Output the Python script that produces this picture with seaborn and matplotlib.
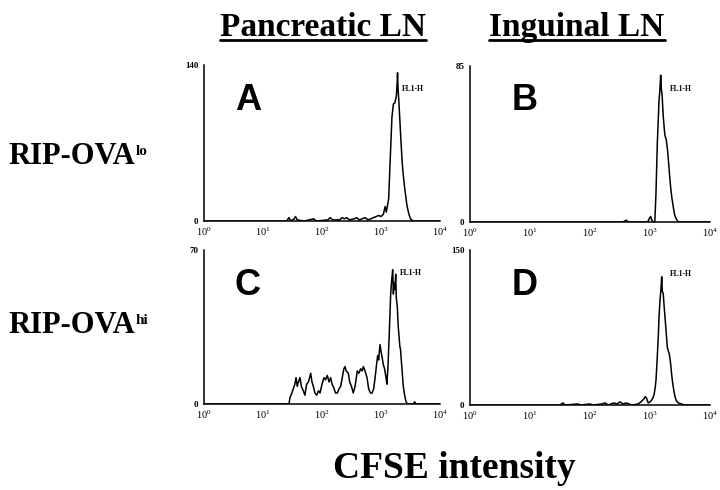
import matplotlib
matplotlib.use("Agg")
import matplotlib.pyplot as plt
import numpy as np
import pandas as pd
import seaborn as sns
from matplotlib.lines import Line2D
from matplotlib.ticker import LogLocator, LogFormatterMathtext, NullFormatter

# Histogram traces: log10(CFSE channel) and cell count
a_logx = [0.0, 1.40, 1.44, 1.47, 1.53, 1.55, 1.58, 1.70, 1.86, 1.90, 2.10, 2.14, 2.18,
          2.30, 2.34, 2.38, 2.42, 2.46, 2.55, 2.59, 2.63, 2.68, 2.73, 2.78, 2.83, 2.87,
          2.92, 2.96, 3.00, 3.04, 3.07, 3.09, 3.11, 3.13, 3.156, 3.185, 3.21, 3.235,
          3.26, 3.275, 3.28, 3.29, 3.30, 3.32, 3.34, 3.36, 3.38, 3.40, 3.42, 3.44,
          3.46, 3.48, 3.50, 3.52, 3.54, 4.0]
a_count = [0, 0, 3, 0, 2, 4, 1, 0, 2, 0, 1, 3, 1,
           1, 3, 2, 3, 1, 2, 3, 1, 2, 3, 1, 2, 3,
           4, 5, 4, 6, 13, 8, 14, 20, 55, 93, 105, 106,
           112, 125, 133, 118, 110, 90, 70, 52, 40, 30, 22, 14,
           9, 5, 2, 1, 0, 0]

b_logx = [0.0, 2.55, 2.60, 2.64, 2.96, 2.99, 3.01, 3.03, 3.05, 3.08, 3.10, 3.122,
          3.15, 3.165, 3.178, 3.19, 3.20, 3.222, 3.24, 3.25, 3.27, 3.29, 3.306,
          3.325, 3.344, 3.365, 3.389, 3.41, 3.433, 3.47, 4.0]
b_count = [0, 0, 1, 0, 0, 2, 3, 1, 0, 0, 16, 43,
           66, 72, 80, 72, 70, 57, 50, 47, 45, 40, 34,
           26, 19, 13, 8, 4, 2, 0, 0]

c_logx = [0.0, 1.44, 1.458, 1.49, 1.514, 1.54, 1.56, 1.58, 1.60, 1.627, 1.65, 1.683,
          1.71, 1.74, 1.77, 1.79, 1.808, 1.83, 1.853, 1.88, 1.91, 1.94, 1.966, 2.0,
          2.034, 2.06, 2.09, 2.12, 2.147, 2.17, 2.19, 2.23, 2.26, 2.29, 2.317, 2.35,
          2.37, 2.39, 2.41, 2.446, 2.47, 2.5, 2.53, 2.56, 2.598, 2.625, 2.655, 2.68,
          2.70, 2.73, 2.763, 2.79, 2.82, 2.85, 2.876, 2.90, 2.925, 2.944, 2.96, 2.983,
          3.0, 3.02, 3.039, 3.06, 3.085, 3.10, 3.12, 3.14, 3.164, 3.18, 3.198, 3.21,
          3.22, 3.235, 3.249, 3.26, 3.277, 3.29, 3.305, 3.32, 3.33, 3.355, 3.378, 3.40,
          3.424, 3.45, 3.55, 3.57, 3.59, 4.0]
c_count = [0, 0, 3, 5, 7, 9, 12, 8, 10, 12, 8, 6,
           4, 9, 10, 12, 14, 10, 8, 5, 4, 6, 5, 9,
           12, 11, 13, 10, 12, 9, 8, 5, 5, 7, 8, 13,
           16, 17, 15, 14, 10, 8, 5, 8, 15, 14, 16, 15,
           17, 15, 12, 7, 5, 5, 7, 12, 18, 22, 20, 27,
           24, 21, 18, 16, 12, 9, 18, 32, 50, 56, 61, 50,
           55, 52, 59, 48, 44, 36, 31, 26, 25, 16, 8, 4,
           1, 0, 0, 1, 0, 0]

d_logx = [0.0, 1.5, 1.55, 1.58, 1.80, 1.84, 2.0, 2.05, 2.2, 2.25, 2.3, 2.4, 2.45,
          2.5, 2.55, 2.6, 2.7, 2.8, 2.85, 2.90, 2.92, 2.94, 2.97, 3.0, 3.03, 3.05,
          3.067, 3.085, 3.10, 3.12, 3.138, 3.15, 3.167, 3.18, 3.195, 3.205, 3.22,
          3.235, 3.25, 3.27, 3.289, 3.305, 3.32, 3.344, 3.36, 3.378, 3.40, 3.417,
          3.44, 3.47, 3.53, 3.56, 4.0]
d_count = [0, 0, 2, 0, 1, 0, 1, 0, 1, 2, 0, 2, 1,
           3, 1, 2, 0, 1, 3, 6, 8, 7, 2, 3, 5, 7,
           10, 16, 24, 45, 66, 85, 102, 110, 124, 110, 108,
           96, 85, 70, 56, 52, 50, 40, 30, 21, 13, 8,
           4, 2, 1, 0, 0]

panel_letters = ["A", "B", "C", "D"]
y_max = [140, 85, 70, 150]
col_titles = ["Pancreatic LN", "Inguinal LN"]
row_main = ["RIP-OVA", "RIP-OVA"]
row_sup = ["lo", "hi"]
x_title = "CFSE intensity"

traces = [(a_logx, a_count), (b_logx, b_count), (c_logx, c_count), (d_logx, d_count)]

W, H = 720, 490
# axes boxes in pixels: left, top, right, bottom
boxes = [(204, 65, 440, 221), (470, 66, 710, 222),
         (204, 250, 440, 404), (470, 250, 710, 405)]
letter_pos = [(235, 110), (512, 110), (235, 295), (512, 295)]
fl1_pos = [(402, 91), (670, 91), (400, 275), (670, 276)]

sns.set_style("white")
plt.rcParams["font.family"] = ["Liberation Serif", "DejaVu Serif"]
plt.rcParams["mathtext.fontset"] = "custom"
plt.rcParams["mathtext.rm"] = "Liberation Serif:bold"
plt.rcParams.update({"text.color": "black", "xtick.color": "black",
                     "ytick.color": "black", "axes.edgecolor": "black"})

fig = plt.figure(figsize=(W / 100, H / 100), dpi=100)


def fx(x):
    return x / W


def fy(y):
    return 1 - y / H


for i, (logx, cnt) in enumerate(traces):
    l, t, r, b = boxes[i]
    ax = fig.add_axes([fx(l), fy(b), (r - l) / W, (b - t) / H])
    df = pd.DataFrame({"cfse": 10 ** np.array(logx), "count": cnt})
    sns.lineplot(data=df, x="cfse", y="count", ax=ax, color="black",
                 lw=1.1, sort=False, estimator=None)
    ax.set_xscale("log")
    ax.set_xlim(1, 1e4)
    ax.set_ylim(0, y_max[i])
    ax.set_xlabel("")
    ax.set_ylabel("")
    ax.set_yticks([0, y_max[i]])
    ax.set_yticklabels(["0", str(y_max[i])], fontsize=6.5, fontweight="bold")
    ax.xaxis.set_major_locator(LogLocator(base=10, numticks=10))
    ax.xaxis.set_major_formatter(LogFormatterMathtext())
    ax.xaxis.set_minor_locator(LogLocator(base=10, subs=np.arange(2, 10), numticks=20))
    ax.xaxis.set_minor_formatter(NullFormatter())
    ax.tick_params(axis="x", which="major", direction="inout", length=5,
                   width=0.8, labelsize=7.5, pad=1)
    ax.tick_params(axis="x", which="minor", direction="in", length=2.5, width=0.7)
    ax.tick_params(axis="y", direction="out", length=3, width=0.8, pad=1)
    sns.despine(ax=ax)
    for s in ["left", "bottom"]:
        ax.spines[s].set_linewidth(1.1)
        ax.spines[s].set_color("black")
    ax.patch.set_alpha(0)

    lx, ly = letter_pos[i]
    fig.text(fx(lx), fy(ly), panel_letters[i], family="Liberation Sans",
             fontweight="bold", fontsize=26, ha="left", va="baseline")
    px, py = fl1_pos[i]
    fig.text(fx(px), fy(py), "FL1-H", family="Liberation Serif",
             fontweight="bold", fontsize=5.5, ha="left", va="baseline")

# column titles, underlined
titles = []
for cx, txt in zip([323, 577], col_titles):
    titles.append(fig.text(fx(cx), fy(36), txt, fontsize=24, fontweight="bold",
                           ha="center", va="baseline"))

# row labels with superscripts
mains = []
for by, txt in zip([164, 333], row_main):
    mains.append(fig.text(fx(8), fy(by), txt, fontsize=22, fontweight="bold",
                          ha="left", va="baseline"))

fig.text(fx(454), fy(478), x_title, fontsize=27, fontweight="bold",
         ha="center", va="baseline")

fig.canvas.draw()
renderer = fig.canvas.get_renderer()
for t in titles:
    bb = t.get_window_extent(renderer)
    fig.add_artist(Line2D([bb.x0 / W, bb.x1 / W], [fy(40.5), fy(40.5)],
                          transform=fig.transFigure, color="black", lw=2.0))
for t, by, sup in zip(mains, [164, 333], row_sup):
    bb = t.get_window_extent(renderer)
    fig.text((bb.x1 + 1) / W, fy(by - 9), sup, fontsize=11, fontweight="bold",
             ha="left", va="baseline")

fig.savefig("out.png", dpi=100)
